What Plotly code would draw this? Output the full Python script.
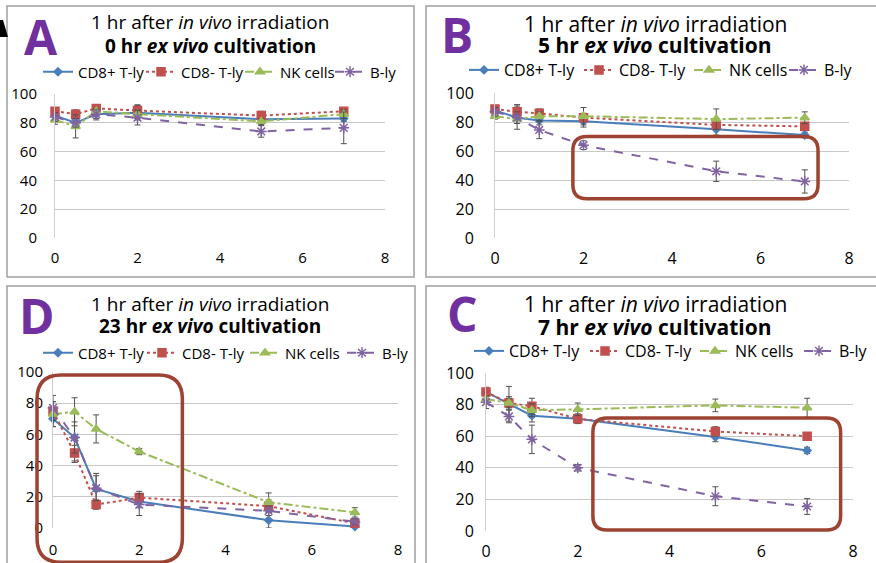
import plotly.graph_objects as go

W, H = 876, 563

# ---------------- data ----------------
hours = [0, 0.5, 1, 2, 5, 7]
series_names = ["CD8+ T-ly", "CD8- T-ly", "NK cells", "B-ly"]
x_ticks = [0, 2, 4, 6, 8]
y_ticks = [0, 20, 40, 60, 80, 100]

# Panel A: 0 hr ex vivo cultivation
A_cd8p = [85, 80, 86, 87, 82.5, 83]
A_cd8m = [88, 86, 90, 88.5, 85, 88]
A_nk = [82, 77.5, 88, 86, 81, 86]
A_bly = [84, 80, 86, 83.5, 74, 76.5]
A_cd8p_err = [3, 2, 4, 5, 4, 2]
A_cd8m_err = [2, 3, 2, 4, 3, 2]
A_nk_err = [3, 8, 2, 3, 2, 3]
A_bly_err = [3, 3, 3, 5, 4, 11]

# Panel B: 5 hr ex vivo cultivation
B_cd8p = [88, 83, 81, 80.5, 75, 71]
B_cd8m = [89, 87, 86, 83, 78, 77]
B_nk = [84, 82, 84, 84, 82, 83]
B_bly = [87, 83, 74.5, 64, 46, 39]
B_cd8p_err = [2, 8, 3, 4, 4, 2]
B_cd8m_err = [2, 5, 3, 3, 3, 2]
B_nk_err = [2, 3, 3, 6, 7, 4]
B_bly_err = [3, 4, 6, 3, 7, 8]

# Panel D: 23 hr ex vivo cultivation
D_cd8p = [70, 58, 25, 17, 5, 1]
D_cd8m = [75, 48, 15, 19.5, 14, 3]
D_nk = [73, 74.5, 63.5, 49, 16.5, 10]
D_bly = [77, 58, 25.5, 15, 11, 4]
D_cd8p_err = [5, 16, 10, 4, 5, 2]
D_cd8m_err = [6, 5, 3, 4, 4, 1]
D_nk_err = [8, 9, 9, 2, 6, 3]
D_bly_err = [8, 10, 8, 7, 3, 2]

# Panel C: 7 hr ex vivo cultivation
C_cd8p = [88, 80.5, 73, 71, 59.5, 51]
C_cd8m = [88, 81, 79, 71, 63, 60]
C_nk = [83.5, 81, 76.5, 77, 79.5, 78]
C_bly = [81.5, 72.5, 58, 40, 22, 15.5]
C_cd8p_err = [3, 11, 4, 3, 3, 2]
C_cd8m_err = [2, 4, 5, 3, 3, 1]
C_nk_err = [2, 3, 4, 4, 4, 6]
C_bly_err = [4, 4, 9, 2, 6, 5]

panel_letters = ["A", "B", "D", "C"]
panel_cultivation = ["0 hr", "5 hr", "23 hr", "7 hr"]
panel_values = [
    [A_cd8p, A_cd8m, A_nk, A_bly],
    [B_cd8p, B_cd8m, B_nk, B_bly],
    [D_cd8p, D_cd8m, D_nk, D_bly],
    [C_cd8p, C_cd8m, C_nk, C_bly],
]
panel_errors = [
    [A_cd8p_err, A_cd8m_err, A_nk_err, A_bly_err],
    [B_cd8p_err, B_cd8m_err, B_nk_err, B_bly_err],
    [D_cd8p_err, D_cd8m_err, D_nk_err, D_bly_err],
    [C_cd8p_err, C_cd8m_err, C_nk_err, C_bly_err],
]
# highlight boxes in data units (x0, x1, y0, y1); None = no box
panel_boxes = [None, (1.76, 7.3, 27, 70), (-0.37, 3.0, -22, 98), (2.33, 7.73, 0.6, 71.5)]

# ---------------- styling / layout geometry (pixels) ----------------
styles = [
    dict(color="#4A7EBB", dash="solid", symbol="diamond", size=6),
    dict(color="#C0504D", dash="dot", symbol="square", size=8),
    dict(color="#9BBB59", dash="dashdot", symbol="triangle-up", size=8),
    dict(color="#8064A2", dash="dash", symbol="asterisk-open", size=9),
]
# plot area (left, top, right, bottom)
plot_px = [(55, 94, 385, 238), (495, 93, 849, 238), (53, 372, 398, 528), (486, 373, 853, 531)]
frame_px = [(7, 6, 414, 277), (426, 6, 890, 277), (7, 286, 415, 580), (426, 286, 890, 580)]
letter_px = [(41, 36), (457, 34), (37, 315), (462, 313)]
title_px = [(210, 22, 46), (655, 24, 45), (210, 304, 326), (655, 304, 327)]
title_font = [19, 21, 19, 21]
tick_font = [15, 16, 15, 16]
ytick_standoff = [14, 17, 6, 8]
xtick_standoff = [9, 9, 11, 9]
# legend: text start x of each entry, and row y
legend_text_x = [[76, 179, 278, 368], [502, 617, 727, 822], [76, 180, 283, 380], [507, 623, 733, 837]]
legend_y = [72, 70, 353, 351]
legend_font = [15, 16, 15, 16]

FONT = "Open Sans"
BOX_COLOR = "#9E4232"


def px2paper(x, y):
    return x / W, 1 - y / H


fig = go.Figure()
shapes = []
annotations = []
layout_extra = {}

for i in range(4):
    L, T, R, B = plot_px[i]
    ax = "" if i == 0 else str(i + 1)
    xa, ya = "x" + ax, "y" + ax
    for s in range(4):
        st = styles[s]
        k = i * 4 + s
        leg = "legend" if k == 0 else f"legend{k + 1}"
        fig.add_trace(go.Scatter(
            x=hours, y=panel_values[i][s], name=series_names[s],
            mode="lines+markers", xaxis=xa, yaxis=ya, legend=leg,
            cliponaxis=False,
            line=dict(color=st["color"], dash=st["dash"], width=2),
            marker=dict(symbol=st["symbol"], size=st["size"], color=st["color"],
                        line=dict(color=st["color"], width=1.5)),
            error_y=dict(type="data", array=panel_errors[i][s], visible=True,
                         color="#505050", thickness=1, width=3),
        ))
        gx, gy = px2paper(legend_text_x[i][s] - 38, legend_y[i])
        layout_extra[leg] = dict(orientation="h", x=gx, y=gy, xanchor="left", yanchor="middle",
                                 bgcolor="rgba(0,0,0,0)", itemwidth=30, borderwidth=0,
                                 font=dict(family=FONT, size=legend_font[i], color="#000000"))
    xd0, yd1 = px2paper(L, B)
    xd1, yd0 = px2paper(R, T)
    layout_extra["xaxis" + ax] = dict(
        domain=[xd0, xd1], anchor=ya, range=[0, 8], tickvals=x_ticks,
        showgrid=False, zeroline=False, showline=False, ticks="",
        ticklabelstandoff=xtick_standoff[i],
        tickfont=dict(family=FONT, size=tick_font[i], color="#000000"))
    layout_extra["yaxis" + ax] = dict(
        domain=[yd1, yd0], anchor=xa, range=[0, 100], tickvals=y_ticks,
        showgrid=True, gridcolor="#C8C8C8", gridwidth=1, zeroline=False,
        showline=True, linecolor="#D0D0D0", linewidth=1, ticks="",
        ticklabelstandoff=ytick_standoff[i],
        tickfont=dict(family=FONT, size=tick_font[i], color="#000000"))

    # panel frame
    fx0, fy0, fx1, fy1 = frame_px[i]
    p0 = px2paper(fx0, fy1)
    p1 = px2paper(fx1, fy0)
    shapes.append(dict(type="rect", xref="paper", yref="paper",
                       x0=p0[0], y0=p0[1], x1=p1[0], y1=p1[1],
                       line=dict(color="#A0A0A0", width=1.5), layer="below"))

    # highlight box
    if panel_boxes[i] is not None:
        bx0, bx1, by0, by1 = panel_boxes[i]
        sx = (R - L) / 8.0
        sy = (B - T) / 100.0
        left = L + bx0 * sx
        right = L + bx1 * sx
        top = B - by1 * sy
        bot = B - by0 * sy
        r = 14 if i != 2 else 24

        def P(x, y):
            a, b = px2paper(x, y)
            return f"{a:.5f},{b:.5f}"
        path = (f"M {P(left + r, top)} L {P(right - r, top)} Q {P(right, top)} {P(right, top + r)} "
                f"L {P(right, bot - r)} Q {P(right, bot)} {P(right - r, bot)} "
                f"L {P(left + r, bot)} Q {P(left, bot)} {P(left, bot - r)} "
                f"L {P(left, top + r)} Q {P(left, top)} {P(left + r, top)} Z")
        shapes.append(dict(type="path", xref="paper", yref="paper", path=path,
                           line=dict(color=BOX_COLOR, width=3.5), layer="above"))

    # panel letter
    lx, ly = px2paper(*letter_px[i])
    annotations.append(dict(text=f"<b>{panel_letters[i]}</b>", x=lx, y=ly, xref="paper", yref="paper",
                            showarrow=False, xanchor="center", yanchor="middle",
                            font=dict(family=FONT, size=48, color="#7030A0")))
    # titles
    tx, ty1, ty2 = title_px[i]
    a, b1 = px2paper(tx, ty1)
    _, b2 = px2paper(tx, ty2)
    annotations.append(dict(text="1 hr after <i>in vivo</i> irradiation", x=a, y=b1,
                            xref="paper", yref="paper", showarrow=False,
                            xanchor="center", yanchor="middle",
                            font=dict(family=FONT, size=title_font[i], color="#000000")))
    annotations.append(dict(text=f"<b>{panel_cultivation[i]} <i>ex vivo</i> cultivation</b>", x=a, y=b2,
                            xref="paper", yref="paper", showarrow=False,
                            xanchor="center", yanchor="middle",
                            font=dict(family=FONT, size=title_font[i], color="#000000")))

# small black fragment at the top-left corner
shapes.append(dict(type="path", xref="paper", yref="paper",
                   path=f"M 0,{1-20/H:.5f} L {3/W:.5f},{1-20/H:.5f} L {8/W:.5f},{1-37/H:.5f} L 0,{1-37/H:.5f} Z",
                   fillcolor="#000000", line=dict(width=0)))

fig.update_layout(
    width=W, height=H, margin=dict(l=0, r=0, t=0, b=0, autoexpand=False),
    paper_bgcolor="#FFFFFF", plot_bgcolor="rgba(0,0,0,0)",
    shapes=shapes, annotations=annotations, showlegend=True,
    **layout_extra,
)
fig.write_html("out.html", post_script="document.body.style.margin='0px';",
               config={"displayModeBar": False})
